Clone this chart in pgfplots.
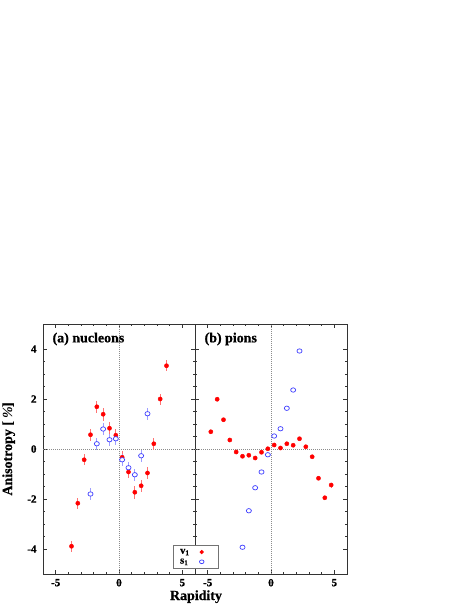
\documentclass[border=0pt]{standalone}
\usepackage{fontspec}
\setmainfont{Liberation Serif}[BoldFeatures={FakeBold=0.8}]
\usepackage{pgfplots}
\usepackage{pgfplotstable}
\pgfplotsset{compat=1.18}
\definecolor{vred}{RGB}{255,0,0}
\definecolor{sblue}{RGB}{60,60,255}

% nucleons
\pgfplotstableread{
x     y      ex    ey
-3.75 -3.89  0.12  0.22
-3.25 -2.17  0.12  0.22
-2.75 -0.43  0.12  0.22
-2.25  0.57  0.12  0.25
-1.75  1.69  0.12  0.25
-1.25  1.39  0.12  0.25
-0.75  0.83  0.12  0.25
-0.25  0.55  0.12  0.25
 0.25 -0.33  0.12  0.25
 0.75 -0.92  0.12  0.25
 1.25 -1.73  0.12  0.25
 1.75 -1.47  0.12  0.25
 2.25 -0.96  0.12  0.25
 2.75  0.21  0.12  0.25
 3.25  2.00  0.12  0.22
 3.75  3.33  0.12  0.22
}\nucvone
\pgfplotstableread{
x     y      ex    ey
-2.25 -1.80  0.12  0.25
-1.75  0.21  0.12  0.25
-1.25  0.80  0.12  0.25
-0.75  0.37  0.12  0.25
-0.25  0.41  0.12  0.25
 0.25 -0.43  0.12  0.25
 0.75 -0.75  0.12  0.25
 1.25 -1.03  0.12  0.25
 1.75 -0.27  0.12  0.25
 2.25  1.41  0.12  0.25
}\nucsone
% pions
\pgfplotstableread{
x     y      ex    ey
-4.75  0.69  0.12  0.08
-4.25  1.99  0.12  0.08
-3.75  1.17  0.12  0.08
-3.25  0.36  0.12  0.06
-2.75 -0.12  0.12  0.06
-2.25 -0.29  0.12  0.06
-1.75 -0.25  0.12  0.06
-1.25 -0.36  0.12  0.06
-0.75 -0.13  0.12  0.06
-0.25  0.01  0.12  0.06
 0.25  0.16  0.12  0.06
 0.75  0.04  0.12  0.06
 1.25  0.21  0.12  0.06
 1.75  0.15  0.12  0.06
 2.25  0.41  0.12  0.06
 2.75  0.09  0.12  0.06
 3.25 -0.31  0.12  0.06
 3.75 -1.17  0.12  0.08
 4.25 -1.95  0.12  0.08
 4.75 -1.44  0.12  0.10
}\pivone
\pgfplotstableread{
x     y      ex    ey
-2.25 -3.93  0.10  0.04
-1.75 -2.47  0.10  0.04
-1.25 -1.55  0.10  0.04
-0.75 -0.92  0.10  0.04
-0.25 -0.23  0.10  0.04
 0.25  0.52  0.10  0.04
 0.75  0.81  0.10  0.04
 1.25  1.63  0.10  0.04
 1.75  2.36  0.10  0.04
 2.25  3.92  0.10  0.04
}\pisone

\tikzset{zeroline/.style={black!45, line width=0.45pt, dash pattern=on 0.7bp off 1.3bp}}

\pgfplotsset{
  panel/.style={
    scale only axis, width=152bp, height=250bp,
    anchor=south west,
    xmin=-6, xmax=6, ymin=-5, ymax=5,
    xtick={-5,0,5}, xticklabels={\textbf{-5},\textbf{0},\textbf{5}}, minor x tick num=4,
    ytick={-4,-2,0,2,4},
    yticklabels={\textbf{-4},\textbf{-2},\textbf{0},\textbf{2},\textbf{4}},
    minor y tick num=3,
    tick align=inside,
    major tick length=4bp, minor tick length=2.2bp,
    every tick/.style={black!80, line width=0.5pt},
    axis line style={black!80, line width=0.7pt},
    ticklabel style={font=\bfseries\fontsize{11}{13}\selectfont},
    xticklabel style={yshift=-1.5bp},
    yticklabel style={xshift=-3bp},
    clip=false,
  },
  vone/.style={only marks, mark=*, mark size=2.1bp, color=vred,
    error bars/.cd, x dir=both, x explicit, y dir=both, y explicit,
    error mark=none, error bar style={vred!55, line width=0.9pt}},
  sone/.style={only marks, mark=*, mark size=2.2bp, color=sblue,
    mark options={line width=0.7pt, xscale=1.15, fill=white},
    error bars/.cd, x dir=both, x explicit, y dir=both, y explicit,
    error mark=none, error bar style={sblue!50, line width=0.9pt}},
}

\begin{document}
\begin{tikzpicture}
\path[use as bounding box] (0,0) rectangle (469bp,607bp);

\begin{axis}[panel, at={(43bp,33bp)}]
\draw[zeroline] (axis cs:0,-5) -- (axis cs:0,5);
\draw[zeroline] (axis cs:-6,0) -- (axis cs:6,0);
\addplot[vone] table[x=x, y=y, x error=ex, y error=ey] {\nucvone};
\addplot[sone] table[x=x, y=y, x error=ex, y error=ey] {\nucsone};
\node[anchor=west, font=\bfseries\fontsize{14}{16}\selectfont]
  at (rel axis cs:0.04,0.94) {(a) nucleons};
\end{axis}

\begin{axis}[panel, at={(195bp,33bp)}, yticklabels={},
  legend style={at={(-0.147,0.02)}, anchor=south west,
    draw=black!55, fill=white, line width=0.6pt,
    font=\bfseries\fontsize{10.5}{12}\selectfont,
    legend plot pos=right, legend cell align=left,
    inner xsep=6bp, inner ysep=2.5bp, row sep=1bp,
    nodes={inner sep=1.2bp}},
  legend image code/.code={
    \path[draw=none, fill=none] (0,-2bp) rectangle (22bp,2bp);
    \draw[#1] plot coordinates {(11bp,0bp)};},
]
\draw[zeroline] (axis cs:0,-5) -- (axis cs:0,5);
\draw[zeroline] (axis cs:-6,0) -- (axis cs:6,0);
\addplot[forget plot, vone] table[x=x, y=y, x error=ex, y error=ey] {\pivone};
\addplot[forget plot, sone] table[x=x, y=y, x error=ex, y error=ey] {\pisone};
\addlegendimage{only marks, mark=*, mark size=1.8bp, color=vred}
\addlegendentry{v$_{\mathbf{1}}$}
\addlegendimage{only marks, mark=o, mark size=1.9bp, color=sblue, mark options={line width=0.7pt, xscale=1.2}}
\addlegendentry{s$_{\mathbf{1}}$}
\node[anchor=west, font=\bfseries\fontsize{14}{16}\selectfont]
  at (rel axis cs:0.04,0.94) {(b) pions};
\end{axis}

\node[anchor=base, font=\bfseries\fontsize{14}{16}\selectfont] at (196bp,7bp) {Rapidity};
\node[rotate=90, anchor=base, font=\bfseries\fontsize{14}{16}\selectfont] at (12bp,158bp) {Anisotropy [\,\textit{\%}]};
\end{tikzpicture}
\end{document}
